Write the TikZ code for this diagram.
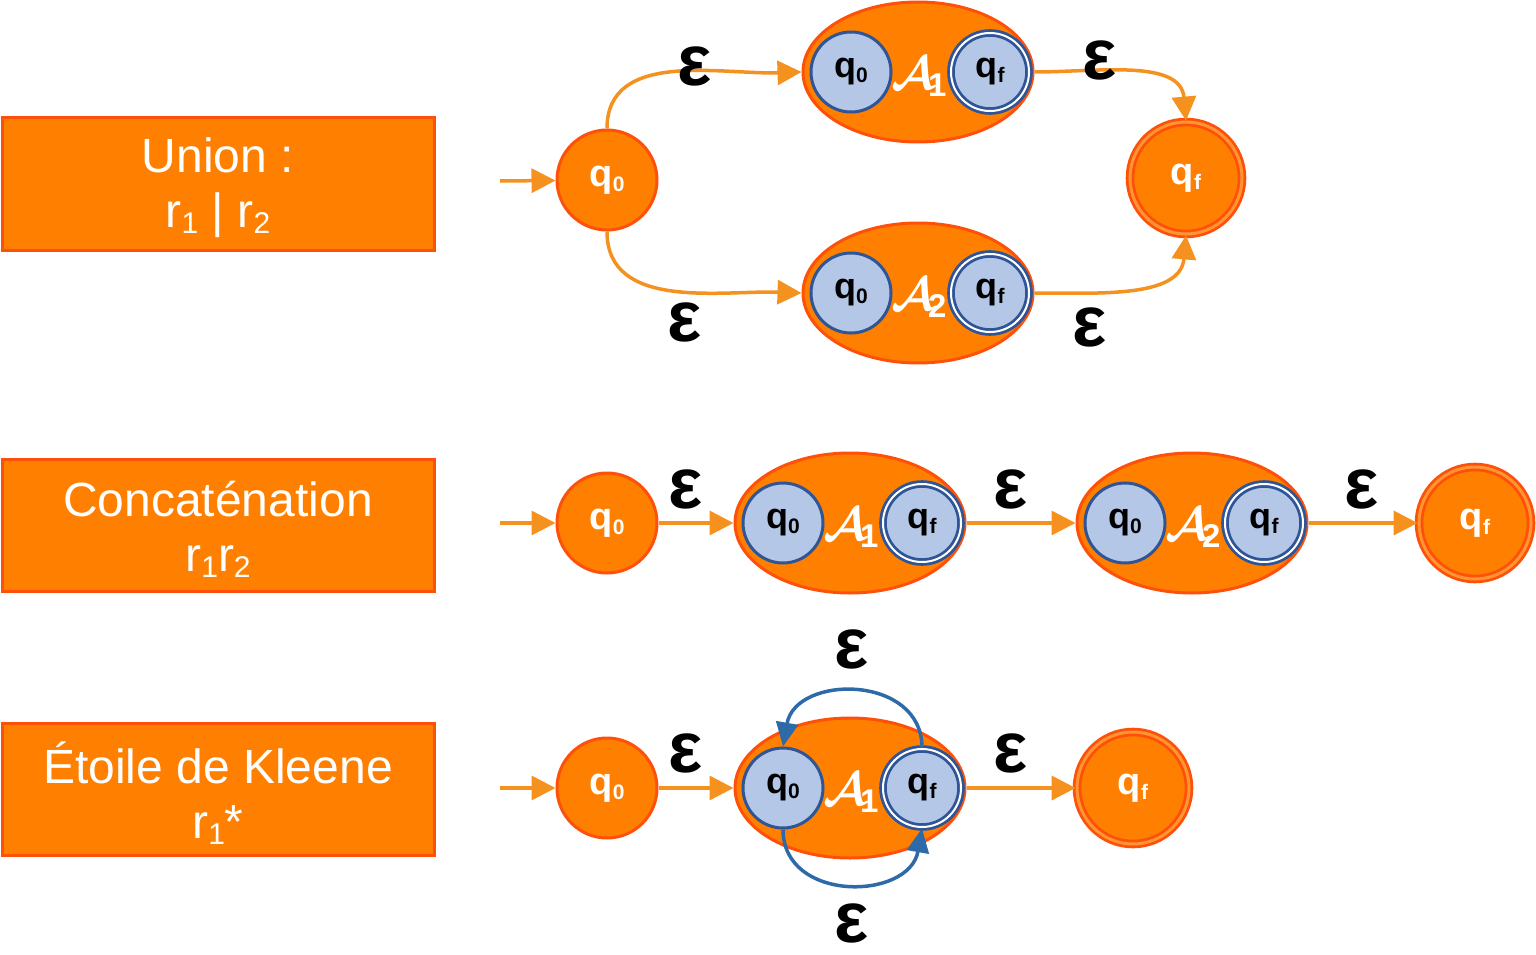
\documentclass[tikz,border=0pt]{standalone}
\usepackage{fontspec}
\setmainfont{Liberation Sans}
\usepackage{amsmath,amsbsy}
\usetikzlibrary{shapes.geometric,arrows.meta}
\definecolor{ofill}{RGB}{255,128,0}
\definecolor{oline}{RGB}{255,80,10}
\definecolor{oring}{RGB}{255,150,50}
\definecolor{oarrow}{RGB}{245,145,30}
\definecolor{bfill}{RGB}{180,199,231}
\definecolor{bline}{RGB}{47,85,151}
\definecolor{barrow}{RGB}{46,106,168}
\newcommand\bsub[1]{\raisebox{-6pt}{\fontsize{30}{30}\selectfont #1}}
\newcommand\qs[1]{\textbf{q}\raisebox{-5pt}{\fontsize{21}{21}\selectfont\bfseries #1}}
\newcommand\autA[1]{\scalebox{4.7}{$\boldsymbol{\mathcal{A}}_{\!\mathbf{#1}}$}}
\begin{document}
\begin{tikzpicture}[x=1pt,y=-1pt,
  box/.style={rectangle, draw=oline, line width=3pt, fill=ofill, minimum width=432pt, minimum height=132pt},
  boxtext/.style={text=white, align=center, inner sep=0pt, font=\fontsize{48}{55}\selectfont},
  ostate/.style={circle, draw=oline, line width=3pt, fill=ofill, minimum size=100pt, inner sep=0pt, text=white, font=\fontsize{38}{40}\selectfont},
  ofinal/.style={circle, draw=oline, line width=2.8pt, double=oring, double distance=3pt, fill=ofill, minimum size=112pt, inner sep=0pt, text=white, font=\fontsize{38}{40}\selectfont},
  bstate/.style={circle, draw=bline, line width=3pt, fill=bfill, minimum size=80pt, inner sep=0pt, text=black, font=\fontsize{36}{38}\selectfont},
  bfinal/.style={circle, draw=bline, line width=2.8pt, double=white, double distance=2pt, fill=bfill, minimum size=78pt, inner sep=0pt, text=black, font=\fontsize{36}{38}\selectfont},
  aut/.style={ellipse, draw=oline, line width=3pt, fill=ofill, minimum width=230pt, minimum height=140pt, inner sep=0pt},
  autlab/.style={text=white, inner sep=0pt},
  eps/.style={font=\fontsize{72}{72}\selectfont\bfseries, text=black, inner sep=0pt},
  oarr/.style={draw=oarrow, line width=3.5pt, -{Triangle[length=24pt,width=24pt]}},
  barr/.style={draw=barrow, line width=3.5pt, -{Triangle[length=24pt,width=22pt]}}
]
\useasboundingbox (0,0) rectangle (1536,955);
% boxes
\node[box] (bu) at (218,184) {};
\node[boxtext] (but) at (218,188) {Union :\\r\bsub{1} | r\bsub{2}};
\node[box] (bc) at (218,525) {};
\node[boxtext] (bct) at (218,529) {Concaténation\\r\bsub{1}r\bsub{2}};
\node[box] (bk) at (218,789) {};
\node[boxtext] (bkt) at (218,793) {Étoile de Kleene\\r\bsub{1}*};

% ---------- Union ----------
\coordinate (us) at (500,181);
\node[ostate] (u0) at (607,180) {\qs{0}};
\node[aut] (uA1) at (918,72) {};
\node[bstate] (uA1i) at (851,72) {\qs{0}};
\node[bfinal] (uA1f) at (990,72) {\qs{f}};
\node[autlab] (uA1l) at (920,77) {\autA{1}};
\node[aut] (uA2) at (918,293) {};
\node[bstate] (uA2i) at (851,293) {\qs{0}};
\node[bfinal] (uA2f) at (990,293) {\qs{f}};
\node[autlab] (uA2l) at (920,298) {\autA{2}};
\node[ofinal] (uf) at (1186,178) {\qs{f}};
\draw[oarr] (us) -- (u0);
\draw[oarr] (u0.north) to[out=90,in=182] (uA1.west);
\draw[oarr] (u0.south) to[out=-90,in=178] (uA2.west);
\draw[oarr] (uA1.east) to[out=0,in=95] (uf.north);
\draw[oarr] (uA2.east) to[out=0,in=-95] (uf.south);
\node[eps] (e1) at (695,66) {ε};
\node[eps] (e2) at (1100,60) {ε};
\node[eps] (e3) at (685,322) {ε};
\node[eps] (e4) at (1090,327) {ε};

% ---------- Concatenation ----------
\coordinate (cs) at (500,523);
\node[ostate] (c0) at (607,523) {\qs{0}};
\node[aut] (cA1) at (850,523) {};
\node[bstate] (cA1i) at (783,523) {\qs{0}};
\node[bfinal] (cA1f) at (922,523) {\qs{f}};
\node[autlab] (cA1l) at (852,528) {\autA{1}};
\node[aut] (cA2) at (1192,523) {};
\node[bstate] (cA2i) at (1125,523) {\qs{0}};
\node[bfinal] (cA2f) at (1264,523) {\qs{f}};
\node[autlab] (cA2l) at (1194,528) {\autA{2}};
\node[ofinal] (cf) at (1475,523) {\qs{f}};
\draw[oarr] (cs) -- (c0);
\draw[oarr] (c0) -- (cA1);
\draw[oarr] (cA1) -- (cA2);
\draw[oarr] (cA2) -- (cf);
\node[eps] (e5) at (686,489) {ε};
\node[eps] (e6) at (1011,489) {ε};
\node[eps] (e7) at (1362,489) {ε};

% ---------- Kleene ----------
\coordinate (ks) at (500,788);
\node[ostate] (k0) at (607,788) {\qs{0}};
\node[aut] (kA1) at (850,788) {};
\node[bstate] (kA1i) at (783,788) {\qs{0}};
\node[bfinal] (kA1f) at (922,788) {\qs{f}};
\node[autlab] (kA1l) at (852,793) {\autA{1}};
\node[ofinal] (kf) at (1133,788) {\qs{f}};
\draw[oarr] (ks) -- (k0);
\draw[oarr] (k0) -- (kA1);
\draw[oarr] (kA1) -- (kf);
\draw[barr] (kA1f.north) to[out=90,in=80,looseness=1.35] (kA1i.north);
\draw[barr] (kA1i.south) to[out=-90,in=-100,looseness=1.35] (kA1f.south);
\node[eps] (e8) at (686,753) {ε};
\node[eps] (e9) at (1011,753) {ε};
\node[eps] (e10) at (852,649) {ε};
\node[eps] (e11) at (852,923) {ε};
\end{tikzpicture}
\end{document}
